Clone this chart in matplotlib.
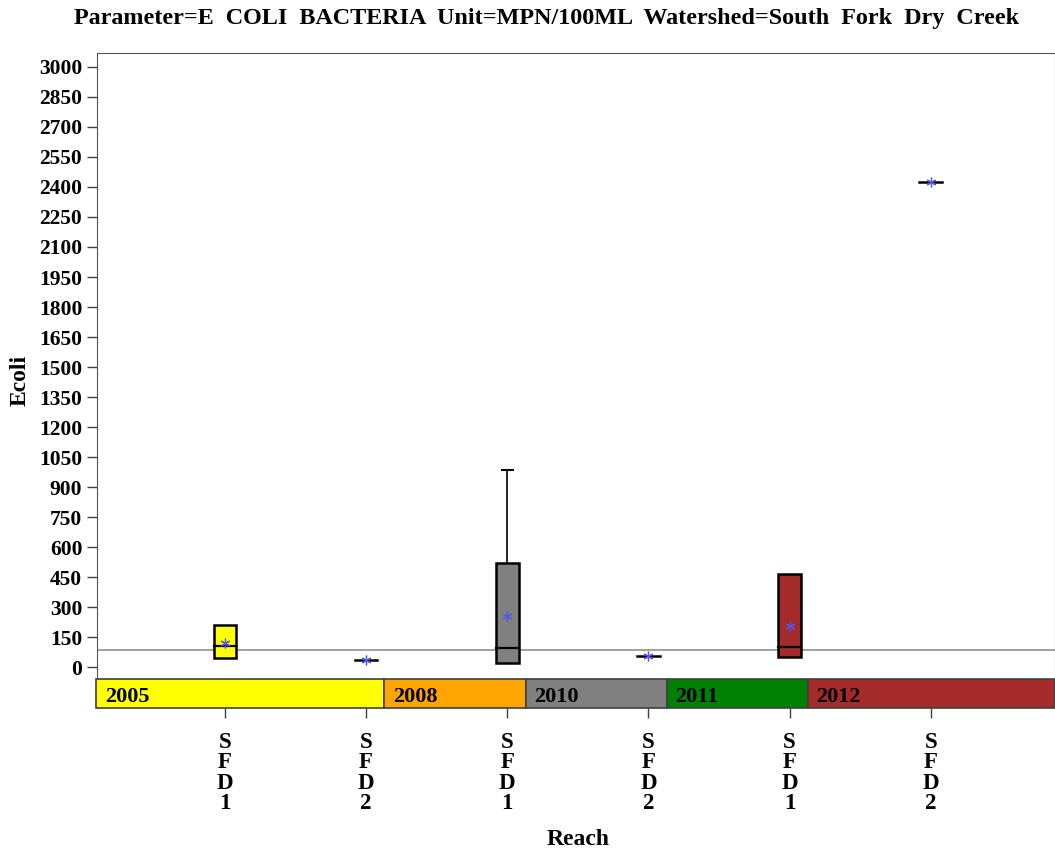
import numpy as np
import matplotlib
matplotlib.use("Agg")
import matplotlib.pyplot as plt
from matplotlib.patches import Rectangle

# categories on the x axis
reaches = ["SFD1", "SFD2", "SFD1", "SFD2", "SFD1", "SFD2"]
# box stats per reach (flat line when q1 == q3)
q1 = [45, 35, 20, 55, 50, 2425]
median = [105, 35, 95, 55, 100, 2425]
q3 = [210, 35, 520, 55, 465, 2425]
whisk_hi = [210, 35, 985, 55, 465, 2425]
means = [120, 35, 255, 55, 205, 2425]
box_colors = ["#ffff00", "#ffff00", "#808080", "#808080", "#a52a2a", "#a52a2a"]

# year bands below the zero line (category-unit edges)
years = ["2005", "2008", "2010", "2011", "2012"]
year_edges = [-0.91, 1.13, 2.13, 3.13, 4.13, 5.88]
year_colors = ["#ffff00", "#ffa500", "#808080", "#008000", "#a52a2a"]

ref_value = 85
yticks = np.arange(0, 3001, 150)

plt.rcParams['font.family'] = ['Liberation Serif', 'DejaVu Serif']
plt.rcParams['font.weight'] = 'bold'

fig = plt.figure(figsize=(10.55, 8.52), dpi=100)
ax = fig.add_axes([0.0919, 0.169, 0.9081, 0.7688])

ax.set_xlim(-0.906, 5.88)
ax.set_ylim(-205, 3070)

bw = 0.16
for i in range(len(reaches)):
    if q3[i] > q1[i]:
        ax.add_patch(Rectangle((i - bw / 2, q1[i]), bw, q3[i] - q1[i],
                               facecolor=box_colors[i], edgecolor='black',
                               linewidth=1.8, zorder=3))
        ax.plot([i - bw / 2, i + bw / 2], [median[i], median[i]],
                color='black', lw=1.6, zorder=4)
        if whisk_hi[i] > q3[i]:
            ax.plot([i, i], [q3[i], whisk_hi[i]], color='black', lw=1.2, zorder=3)
            ax.plot([i - bw / 4, i + bw / 4], [whisk_hi[i], whisk_hi[i]],
                    color='black', lw=1.4, zorder=3)
    else:
        ax.plot([i - bw / 2, i + bw / 2], [median[i], median[i]],
                color='black', lw=1.8, zorder=4)
    ax.plot(i, means[i], marker=(6, 2, 0), ms=7, color='#5555ee', mew=0.9, zorder=5)

ax.axhline(ref_value, color='#909090', lw=1.2, zorder=2)

# year bands
for k, yr in enumerate(years):
    x0, x1 = year_edges[k], year_edges[k + 1]
    ax.add_patch(Rectangle((x0, -205), x1 - x0, 145, facecolor=year_colors[k],
                           edgecolor='#404040', linewidth=1.2, zorder=3,
                           clip_on=False))
    ax.text(x0 + 0.06, -148, yr, fontsize=16, fontweight='bold',
            va='center', ha='left', zorder=4)

ax.set_yticks(yticks)
ax.set_yticklabels([str(v) for v in yticks], fontsize=15.5, fontweight='bold')
ax.set_xticks(range(len(reaches)))
ax.set_xticklabels(["\n".join(r) for r in reaches], fontsize=16.5,
                   fontweight='bold', linespacing=0.97)
ax.tick_params(axis='both', direction='out', length=7, width=1, color='#404040')
ax.tick_params(axis='x', pad=10)

for s in ['left', 'top', 'right']:
    ax.spines[s].set_color('#555555')
ax.spines['bottom'].set_visible(False)

ax.set_ylabel('Ecoli', fontsize=17, fontweight='bold', labelpad=6)
ax.set_xlabel('Reach', fontsize=17, fontweight='bold')
ax.xaxis.set_label_coords(0.502, -0.185)
fig.text(0.518, 0.978, 'Parameter=E  COLI  BACTERIA  Unit=MPN/100ML  Watershed=South  Fork  Dry  Creek',
         fontsize=17.4, fontweight='bold', ha='center', va='center')

fig.savefig('out.png', dpi=100)
